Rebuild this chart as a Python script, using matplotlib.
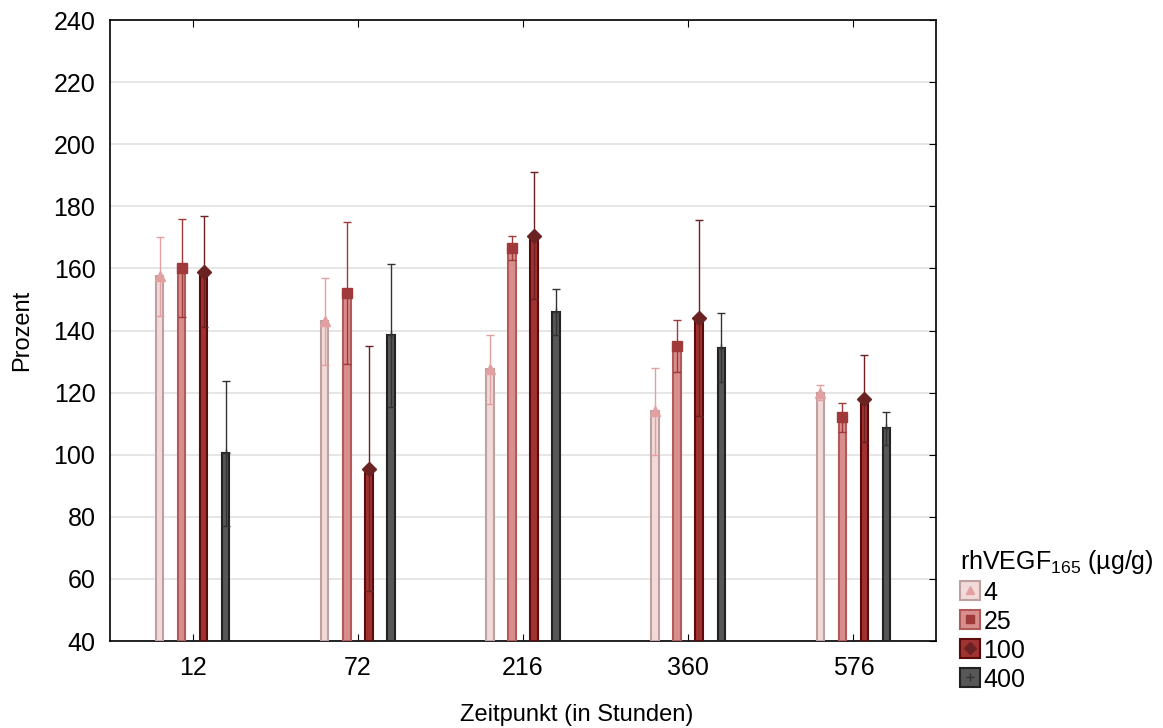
import numpy as np
import matplotlib.pyplot as plt
from matplotlib.patches import Patch
from matplotlib.lines import Line2D

plt.rcParams['font.family'] = ['Liberation Sans', 'DejaVu Sans']
plt.rcParams['mathtext.fontset'] = 'custom'
plt.rcParams['mathtext.rm'] = 'Liberation Sans'
plt.rcParams['mathtext.it'] = 'Liberation Sans'

zeit = ['12', '72', '216', '360', '576']
dosen = ['4', '25', '100', '400']

# Mittelwerte und Fehler je Dosis
w4 = [157.5, 143, 127.5, 114, 120]
e4 = [12.7, 14, 11.2, 14, 2.5]
w25 = [160, 152, 166.5, 135, 112]
e25 = [15.8, 22.8, 3.8, 8.5, 4.7]
w100 = [159, 95.5, 170.5, 144, 118]
e100 = [17.9, 39.5, 20.5, 31.5, 14]
w400 = [100.5, 138.5, 146, 134.5, 108.5]
e400 = [23.3, 23, 7.5, 11, 5.3]

werte = [w4, w25, w100, w400]
fehler = [e4, e25, e100, e400]
face = ['#f2dada', '#d98e8e', '#a03232', '#575757']
edge = ['#bfa0a0', '#b05a5a', '#5c0a0a', '#222222']
mcol = ['#e3a0a0', '#a03a3a', '#6a2222', '#333333']
marker = ['^', 's', 'D', '+']

fig = plt.figure(figsize=(11.63, 7.28), dpi=100)
ax = fig.add_axes([0.0946, 0.1195, 0.7102, 0.853])

x = np.arange(len(zeit))
offs = [-0.2, -0.0667, 0.0667, 0.2]
for i in range(4):
    xi = x + offs[i]
    ax.bar(xi, np.array(werte[i]) - 40, bottom=40, width=0.045,
           color=face[i], edgecolor=edge[i], linewidth=1.5, zorder=3)
    ax.errorbar(xi, werte[i], yerr=fehler[i], fmt='none', ecolor=mcol[i],
                elinewidth=1, capsize=3, capthick=1, zorder=4)
    ax.plot(xi, werte[i], linestyle='none', marker=marker[i], color=mcol[i],
            markersize=7 if i < 3 else 6, zorder=5)

ax.set_xlim(-0.5, 4.5)
ax.set_ylim(40, 240)
ax.set_yticks(np.arange(40, 241, 20))
ax.set_xticks(x)
ax.set_xticklabels(zeit)
ax.yaxis.grid(True, color='#e2e2e2', linewidth=1.2, zorder=0)
ax.set_axisbelow(True)
ax.tick_params(axis='both', labelsize=18, direction='in')
ax.tick_params(axis='y', left=False, right=True, length=5, pad=10.5)
ax.tick_params(axis='x', top=True, length=5, pad=11)
for s in ax.spines.values():
    s.set_linewidth(1.2)

ax.set_ylabel('Prozent', fontsize=17)
ax.yaxis.set_label_coords(-0.093, 0.5)
fig.text(0.496, 0.018, 'Zeitpunkt (in Stunden)', fontsize=17,
         ha='center', va='center')

handles = []
for i in range(4):
    p = Patch(facecolor=face[i], edgecolor=edge[i], linewidth=1.5)
    m = Line2D([], [], linestyle='none', marker=marker[i], color=mcol[i], markersize=6)
    handles.append((p, m))
leg = fig.legend(handles, dosen, loc='upper left', bbox_to_anchor=(0.815, 0.265),
                 title='rhVEGF$_{165}$ (µg/g)', frameon=False, fontsize=18,
                 title_fontsize=18, handlelength=0.8, handleheight=0.8,
                 handletextpad=0.12, labelspacing=0.2, borderpad=0)
leg._legend_box.align = 'left'

fig.savefig('out.png', dpi=100)
